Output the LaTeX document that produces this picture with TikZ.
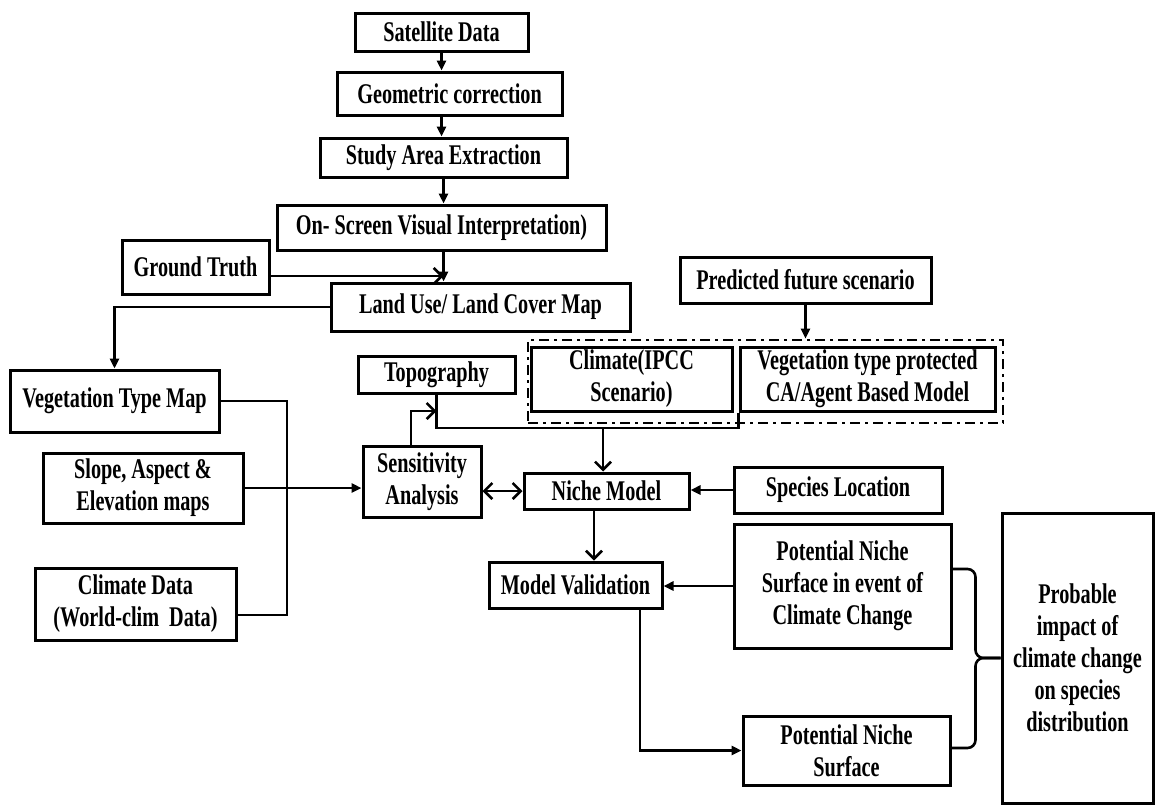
\documentclass[tikz,border=0pt]{standalone}
\usepackage{fontspec}
\setmainfont{Liberation Serif}[FakeStretch=0.71]
\usetikzlibrary{arrows.meta,positioning}

\begin{document}
\begin{tikzpicture}[x=1pt,y=-1pt,
box/.style={draw,line width=3pt,inner sep=0pt,align=center,
  font=\fontsize{28.5}{32}\selectfont\bfseries},
grp/.style={draw,line width=2.8pt,dash pattern=on 10pt off 5pt on 3pt off 5pt},
ln/.style={line width=2.6pt},
fa/.style={ln,-{Triangle[length=10pt,width=9pt]}},
oa/.style={ln,-{Straight Barb[length=8pt,width=16pt]}}]
\useasboundingbox (0,0) rectangle (1158,806);

% processing chain
\node[box,minimum width=173pt,minimum height=38pt] (sat) at (441.5,32) {Satellite Data};
\node[box,minimum width=225pt,minimum height=43pt] (geo) at (449.5,93.5) {Geometric correction};
\node[box,minimum width=247pt,minimum height=39pt] (study) at (443.5,157.5) {Study Area Extraction};
\node[box,minimum width=329pt,minimum height=45pt] (onscreen) at (441.5,227.5) {On- Screen Visual Interpretation)};
\node[box,minimum width=147pt,minimum height=54pt] (ground) at (195.5,267) {Ground Truth};
\node[box,minimum width=299pt,minimum height=48pt] (landuse) at (480.5,307) {Land Use/ Land Cover Map};
\node[box,minimum width=251pt,minimum height=46pt] (pred) at (805.5,280) {Predicted future scenario};

% scenario group
\node[grp,minimum width=475pt,minimum height=83pt] (scen) at (765.5,381.5) {};
\node[box,minimum width=201pt,minimum height=64pt] (climipcc) at (631.5,379) {Climate(IPCC\\Scenario)};
\node[box,minimum width=255pt,minimum height=64pt] (vegprot) at (867.5,379) {Vegetation type protected\\CA/Agent Based Model};

% inputs
\node[box,minimum width=157pt,minimum height=37pt] (topo) at (436.5,374.5) {Topography};
\node[box,minimum width=209pt,minimum height=62pt] (vegmap) at (114.5,401) {Vegetation Type Map};
\node[box,minimum width=200pt,minimum height=70pt] (slope) at (143,488) {Slope, Aspect \&\\Elevation maps};
\node[box,minimum width=201pt,minimum height=72pt] (climdata) at (135.5,604) {Climate Data\\(World-clim~ Data)};
\node[box,minimum width=118pt,minimum height=71pt] (sens) at (422,481.5) {Sensitivity\\Analysis};

% model
\node[box,minimum width=165pt,minimum height=36pt] (niche) at (606.5,491) {Niche Model};
\node[box,minimum width=208pt,minimum height=46pt] (species) at (838,490) {Species Location};
\node[box,minimum width=173pt,minimum height=46pt] (valid) at (575.5,585) {Model Validation};
\node[box,minimum width=217pt,minimum height=124pt] (pnscc) at (842.5,586) {Potential Niche\\Surface in event of\\Climate Change};
\node[box,minimum width=207pt,minimum height=69pt] (pns) at (846.5,750.5) {Potential Niche\\Surface};
\node[box,minimum width=151pt,minimum height=290pt] (impact) at (1077.5,658) {Probable\\impact of\\climate change\\on species\\distribution};

\coordinate (gt) at (443.5,276);
\coordinate (bus) at (287,401);
\coordinate (tj) at (436.5,411);
\coordinate (mid) at (603,428);

% connectors
\draw[fa] (sat.south) -- (sat.south |- geo.north);
\draw[fa] (sat.south |- geo.south) -- (sat.south |- study.north);
\draw[fa] (study.south) -- (study.south |- onscreen.north);
\draw[fa] (study.south |- onscreen.south) -- (study.south |- landuse.north);
\draw[oa] ([yshift=-9pt]ground.east) -- (gt);
\draw[fa] (landuse.west) -| (vegmap.north);
\draw[ln] (vegmap.east) -- (bus) |- ([yshift=-11pt]climdata.east);
\draw[fa] (slope.east) -- (slope.east -| sens.west);
\draw[oa] ([xshift=-11pt]sens.north) |- (tj);
\draw[ln] (topo.south) |- (mid) -| (vegprot.south west);
\draw[oa] (mid) -- (mid |- niche.north);
\draw[fa] (pred.south) -- (pred.south |- scen.north);
\draw[ln,{Straight Barb[length=8pt,width=16pt]}-{Straight Barb[length=8pt,width=16pt]}] (niche.west) -- (niche.west -| sens.east);
\draw[fa] (species.west) -- (species.west -| niche.east);
\draw[oa] ([xshift=-12.5pt]niche.south) -- ([xshift=-12.5pt]niche.south |- valid.north);
\draw[fa] (pnscc.west) -- (pnscc.west -| valid.east);
\draw[fa] ([xshift=64.5pt]valid.south) |- (pns.west);

% brace
\draw[ln,rounded corners=8pt] ([yshift=17pt]pnscc.east) -| ([xshift=-25pt]impact.west) -- (impact.west);
\draw[ln,rounded corners=8pt] ([yshift=2.5pt]pns.east) -| ([xshift=-25pt]impact.west) -- (impact.west);
\end{tikzpicture}
\end{document}
